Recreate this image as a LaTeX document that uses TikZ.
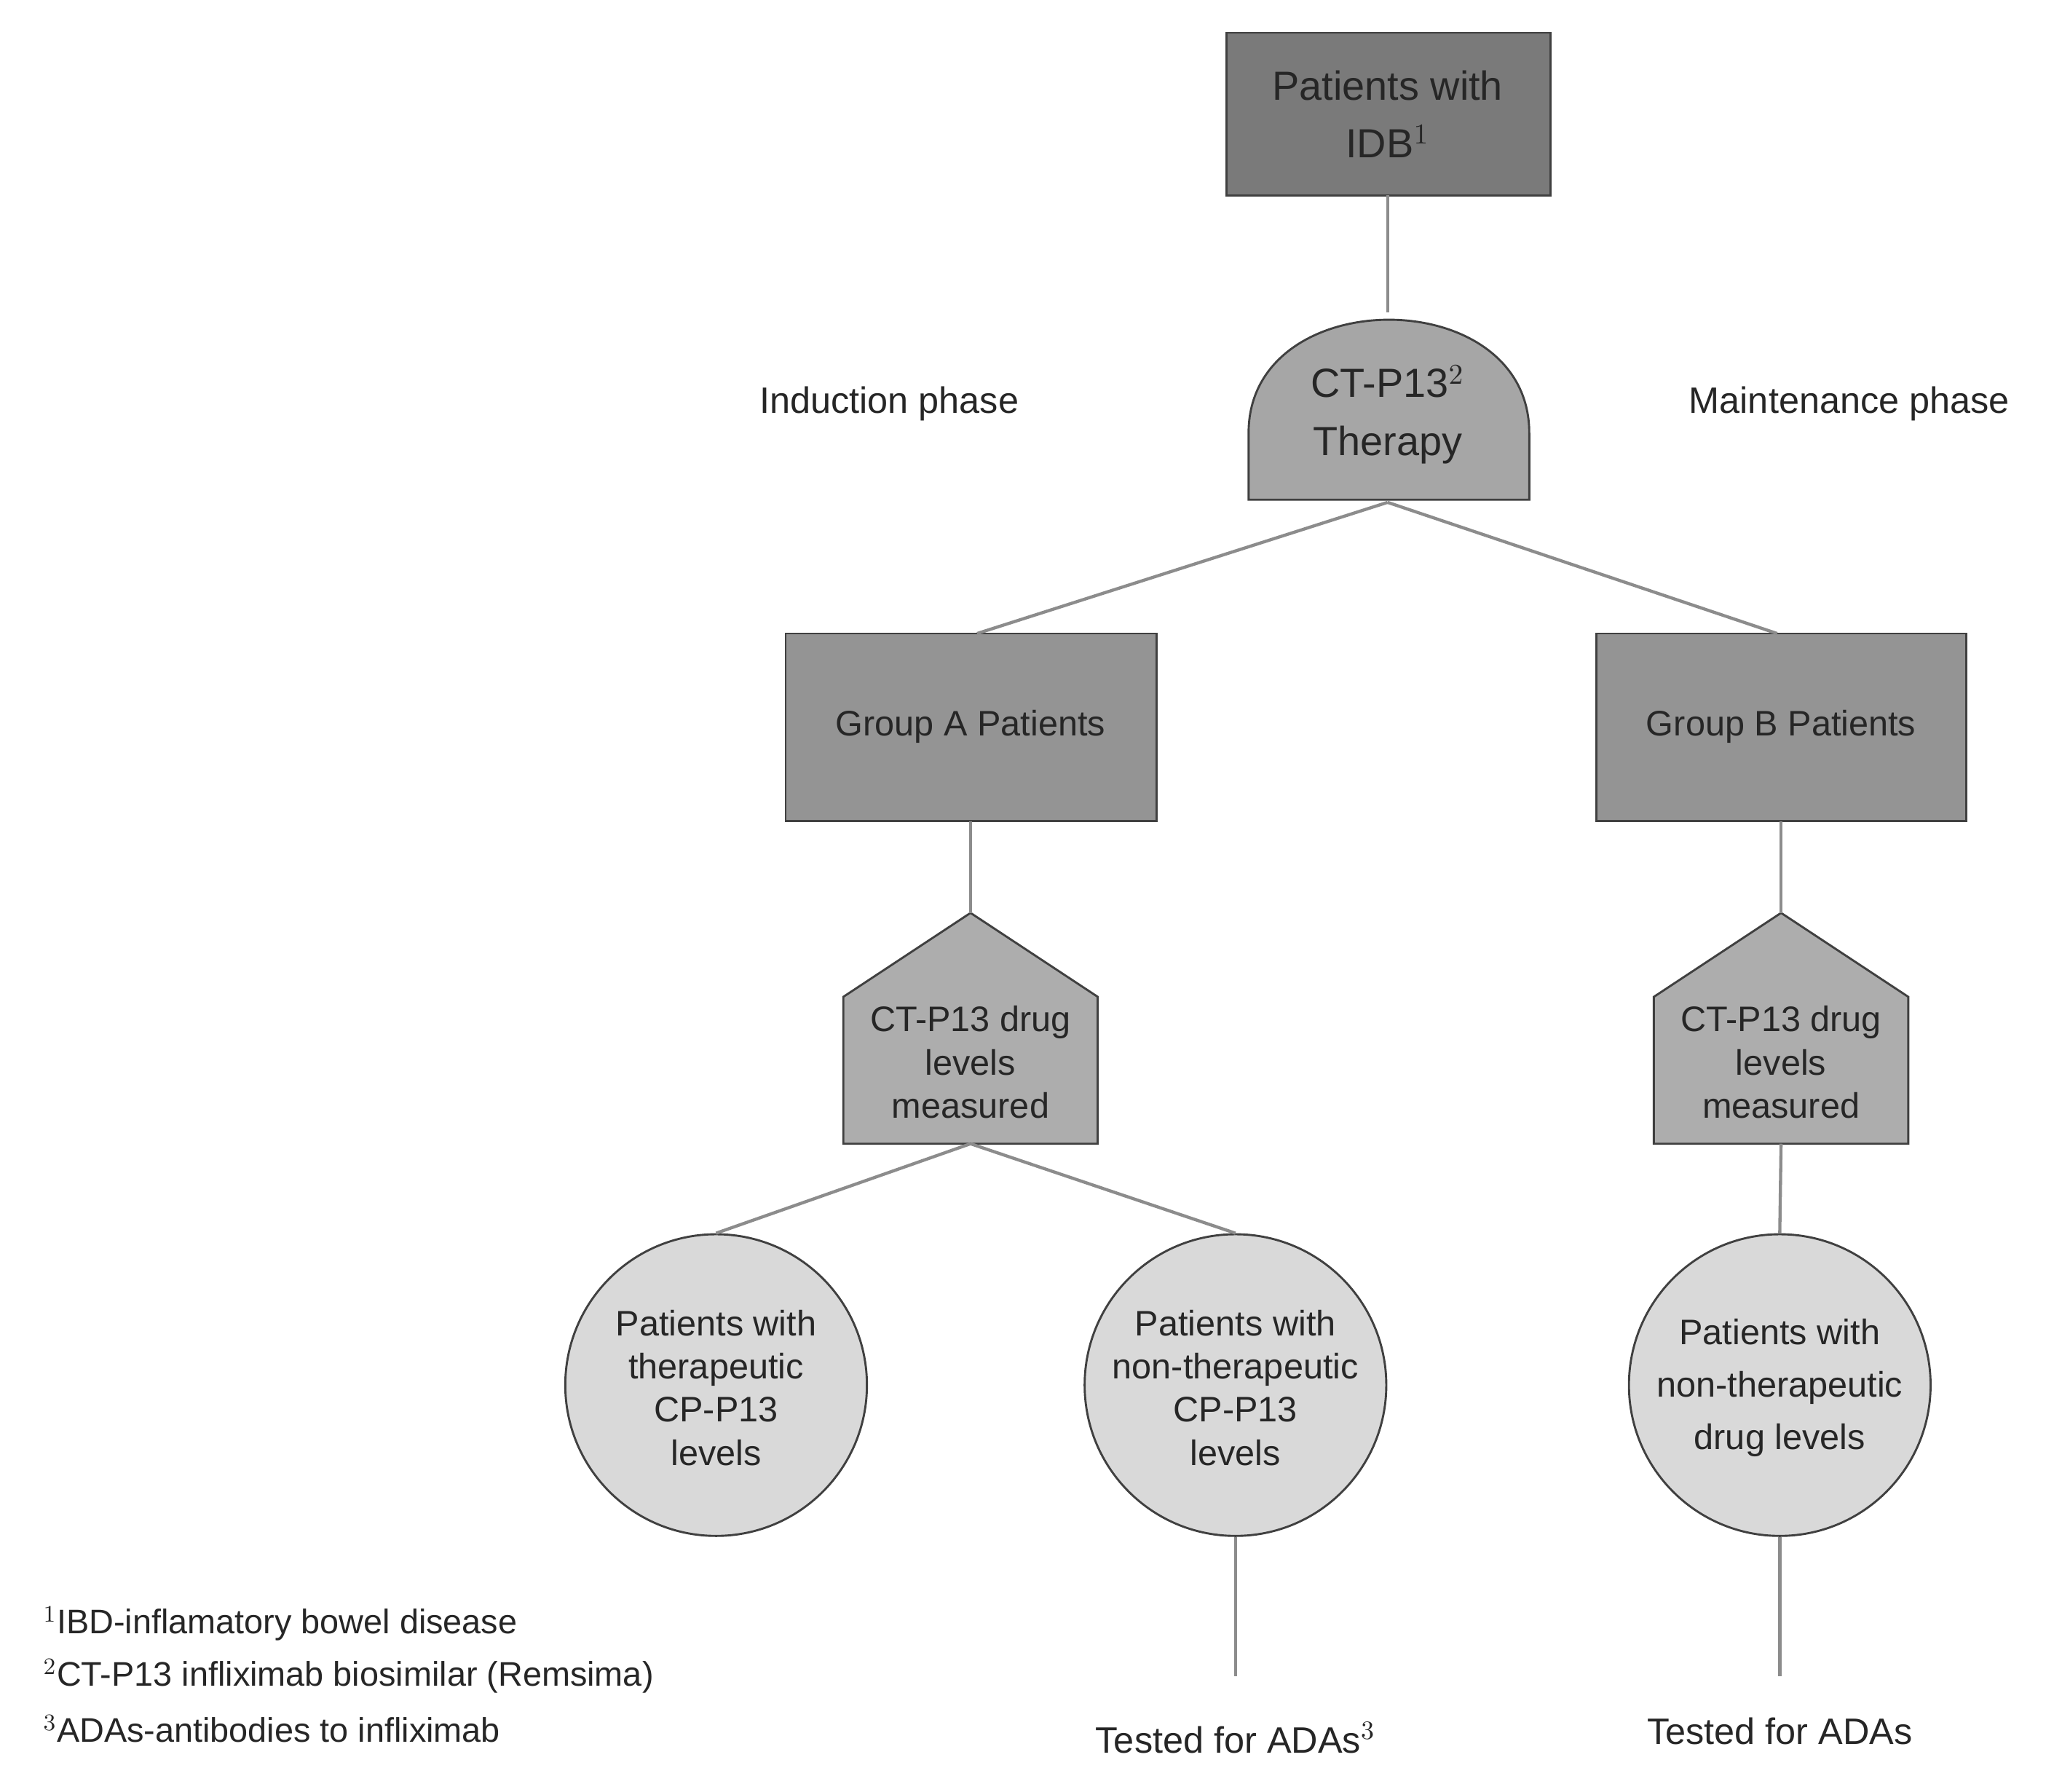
\documentclass[tikz,border=0pt]{standalone}
\usepackage{fontspec}
\setmainfont{Liberation Sans}
\begin{document}
\begin{tikzpicture}[x=0.5pt,y=-0.5pt,
  box/.style={draw=black!75,line width=0.8pt},
  ln/.style={draw=black!45,line width=1.2pt},
  txt/.style={font=\fontsize{13.5}{16.5}\selectfont,align=center,text=black!85}]
\useasboundingbox (0,0) rectangle (1560,1366);
% top box
\draw[box,fill=black!52] (935,25) rectangle (1182,149);
\node[txt,font=\fontsize{15.5}{22}\selectfont] (top) at (1058,87) {Patients with\\IDB$^{1}$};
\coordinate (topb) at (1058,149);
% therapy dome
\draw[box,fill=black!35] (952,381) -- (952,330) .. controls (952,215) and (1166,215) .. (1166,330) -- (1166,381) -- cycle;
\node[txt,font=\fontsize{15.5}{22}\selectfont] (ther) at (1058,316) {CT-P13$^{2}$\\Therapy};
\coordinate (thert) at (1058,238);
\coordinate (therb) at (1058,383);
\draw[ln] (topb) -- (thert);
\node[txt,font=\fontsize{14}{17}\selectfont] (ind) at (678,308) {Induction phase};
\node[txt,font=\fontsize{14}{17}\selectfont] (mai) at (1410,308) {Maintenance phase};
% groups
\draw[box,fill=black!42] (599,483) rectangle (882,626);
\node[txt] (ga) at (740,554) {Group A Patients};
\draw[box,fill=black!42] (1217,483) rectangle (1499,626);
\node[txt] (gb) at (1358,554) {Group B Patients};
\coordinate (gat) at (745,483); \coordinate (gbt) at (1355,483);
\draw[ln] (therb) -- (gat); \draw[ln] (therb) -- (gbt);
% pentagons
\foreach \cx/\nm in {740/pa,1358/pb}{
  \draw[box,fill=black!32] (\cx-97,872) -- (\cx-97,760) -- (\cx,696) -- (\cx+97,760) -- (\cx+97,872) -- cycle;
  \node[txt] (\nm) at (\cx,810) {CT-P13 drug\\levels\\measured};
}
\coordinate (pat) at (740,696); \coordinate (pab) at (740,872);
\coordinate (pbt) at (1358,696); \coordinate (pbb) at (1358,872);
\coordinate (gab) at (740,626); \coordinate (gbb) at (1358,626);
\draw[ln] (gab) -- (pat); \draw[ln] (gbb) -- (pbt);
% circles
\node[circle,box,fill=black!15,minimum size=230pt*0.5,inner sep=0] (c1) at (546,1056) {};
\node[txt] at (546,1058) {Patients with\\therapeutic\\CP-P13\\levels};
\node[circle,box,fill=black!15,minimum size=230pt*0.5,inner sep=0] (c2) at (942,1056) {};
\node[txt] at (942,1058) {Patients with\\non-therapeutic\\CP-P13\\levels};
\node[circle,box,fill=black!15,minimum size=230pt*0.5,inner sep=0] (c3) at (1357,1056) {};
\node[txt,font=\fontsize{13.5}{20}\selectfont] at (1357,1058) {Patients with\\non-therapeutic\\drug levels};
\draw[ln] (pab) -- (c1.north); \draw[ln] (pab) -- (c2.north);
\draw[ln] (pbb) -- (c3.north);
\coordinate (e2) at (942,1278); \coordinate (e3) at (1357,1278);
\draw[ln] (c2.south) -- (e2); \draw[ln] (c3.south) -- (e3);
\node[txt,font=\fontsize{14}{17}\selectfont] (t2) at (942,1325) {Tested for ADAs$^{3}$};
\node[txt,font=\fontsize{14}{17}\selectfont] (t3) at (1357,1320) {Tested for ADAs};
% footnotes
\begin{scope}[every node/.style={txt,anchor=west,font=\fontsize{13}{16}\selectfont}]
\node (f1) at (26,1238) {$^{1}$IBD-inflamatory bowel disease};
\node (f2) at (26,1278) {$^{2}$CT-P13 infliximab biosimilar (Remsima)};
\node (f3) at (26,1318) {$^{3}$ADAs-antibodies to infliximab};
\end{scope}
\end{tikzpicture}
\end{document}
